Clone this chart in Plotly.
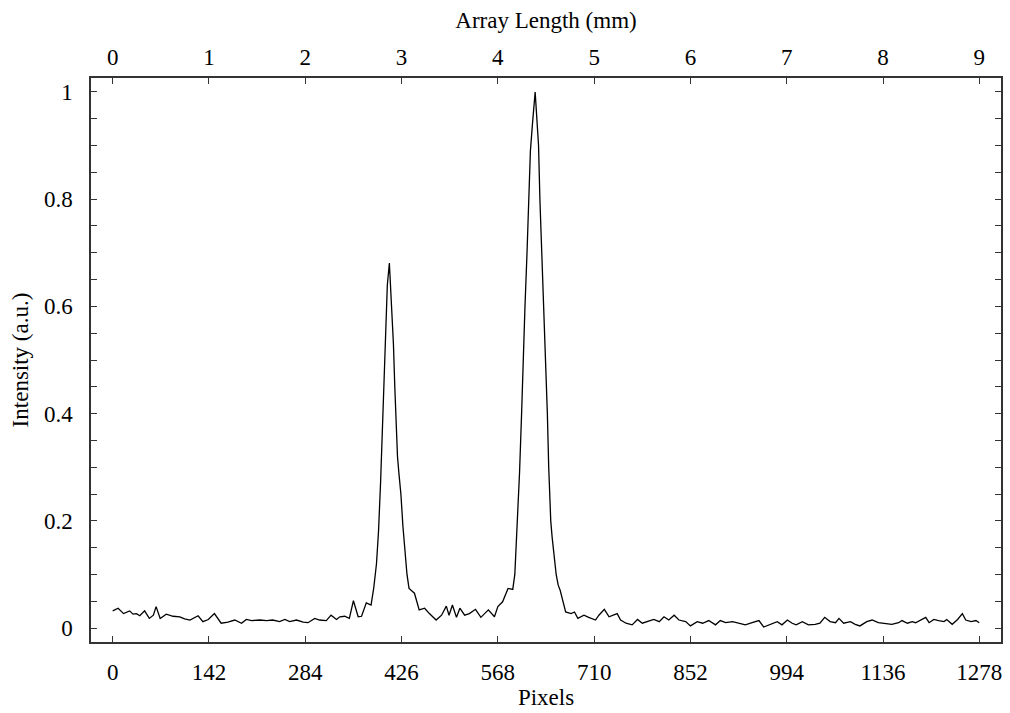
import plotly.graph_objects as go

pixels = [0, 8, 16, 25, 30, 35, 40, 47, 54, 60, 64, 70, 79, 89, 99, 106, 114, 126, 133, 141,
          150, 160, 170, 180, 190, 197, 205, 217, 227, 236, 246, 254, 261, 271, 281, 288, 298,
          305, 315, 322, 330, 335, 342, 349, 355, 362, 367, 374, 381, 385, 389, 392, 395, 398,
          401, 403, 405, 408, 410, 412, 414, 416, 418, 420, 422, 425, 428, 431, 434, 437, 445,
          452, 460, 467, 477, 485, 492, 496, 501, 507, 512, 519, 526, 535, 543, 554, 563, 568,
          575, 583, 590, 593, 596, 598, 600, 603, 605, 608, 611, 614, 616, 619, 621, 623, 625,
          627, 628, 630, 633, 636, 639, 641, 643, 645, 646, 648, 651, 654, 657, 660, 663, 668,
          676, 681, 686, 695, 702, 712, 717, 725, 732, 744, 749, 757, 766, 774, 781, 788, 798,
          806, 813, 820, 828, 835, 845, 852, 862, 870, 879, 889, 896, 904, 914, 923, 933, 943,
          953, 960, 968, 980, 987, 995, 1002, 1008, 1017, 1026, 1036, 1043, 1050, 1058, 1066,
          1071, 1078, 1088, 1095, 1102, 1112, 1120, 1129, 1139, 1149, 1159, 1164, 1172, 1179,
          1184, 1191, 1199, 1204, 1211, 1218, 1226, 1230, 1238, 1246, 1253, 1258, 1266, 1273, 1278]

intensity = [0.032, 0.037, 0.027, 0.032, 0.026, 0.027, 0.023, 0.032, 0.018, 0.024, 0.040, 0.018,
             0.026, 0.022, 0.021, 0.017, 0.015, 0.023, 0.012, 0.016, 0.027, 0.009, 0.011, 0.015,
             0.009, 0.016, 0.014, 0.015, 0.014, 0.015, 0.012, 0.016, 0.012, 0.015, 0.011, 0.010,
             0.018, 0.015, 0.014, 0.024, 0.016, 0.021, 0.022, 0.018, 0.051, 0.021, 0.022, 0.047,
             0.043, 0.075, 0.12, 0.18, 0.27, 0.39, 0.51, 0.58, 0.64, 0.681, 0.63, 0.56, 0.53,
             0.45, 0.38, 0.32, 0.29, 0.25, 0.19, 0.14, 0.10, 0.074, 0.065, 0.034, 0.037, 0.027,
             0.015, 0.024, 0.041, 0.024, 0.043, 0.020, 0.037, 0.024, 0.027, 0.035, 0.020, 0.034,
             0.021, 0.040, 0.049, 0.074, 0.072, 0.10, 0.18, 0.24, 0.29, 0.40, 0.50, 0.60, 0.70,
             0.82, 0.89, 0.94, 0.98, 1.0, 0.96, 0.91, 0.90, 0.80, 0.70, 0.59, 0.49, 0.40, 0.30,
             0.22, 0.20, 0.17, 0.13, 0.10, 0.08, 0.070, 0.055, 0.030, 0.027, 0.030, 0.018, 0.024,
             0.020, 0.015, 0.024, 0.035, 0.021, 0.027, 0.015, 0.009, 0.006, 0.016, 0.009, 0.012,
             0.016, 0.012, 0.021, 0.015, 0.024, 0.015, 0.012, 0.004, 0.012, 0.009, 0.014, 0.006,
             0.014, 0.010, 0.012, 0.009, 0.006, 0.010, 0.014, 0.002, 0.006, 0.012, 0.006, 0.015,
             0.009, 0.006, 0.012, 0.006, 0.007, 0.009, 0.020, 0.012, 0.010, 0.018, 0.009, 0.012,
             0.007, 0.004, 0.012, 0.015, 0.010, 0.009, 0.007, 0.010, 0.014, 0.009, 0.012, 0.010,
             0.014, 0.020, 0.010, 0.016, 0.014, 0.012, 0.016, 0.007, 0.016, 0.027, 0.015, 0.012,
             0.014, 0.010]

pixel_ticks = [0, 142, 284, 426, 568, 710, 852, 994, 1136, 1278]
mm_ticks = [0, 1, 2, 3, 4, 5, 6, 7, 8, 9]
y_ticks = [0, 0.2, 0.4, 0.6, 0.8, 1]
y_tick_labels = ["0", "0.2", "0.4", "0.6", "0.8", "1"]
PX_PER_MM = 142

font = dict(family="Liberation Serif, Times New Roman, serif", size=23, color="black")

fig = go.Figure()
fig.add_trace(go.Scatter(x=pixels, y=intensity, mode="lines",
                         line=dict(color="black", width=1.3), showlegend=False))

xr = [-32, 1310]
fig.update_layout(
    width=1010, height=713,
    margin=dict(l=91, r=7, t=78, b=71),
    plot_bgcolor="white", paper_bgcolor="white",
    font=font,
    xaxis=dict(range=xr, tickvals=pixel_ticks, ticktext=[str(t) for t in pixel_ticks],
               ticks="inside", ticklen=6, tickwidth=1, tickcolor="#333",
               showline=True, linecolor="#333", linewidth=1.5, mirror=True,
               showgrid=False, zeroline=False,
               title=dict(text="Pixels", font=font, standoff=5),
               ticklabelstandoff=9),
    xaxis2=dict(range=[xr[0] / PX_PER_MM, xr[1] / PX_PER_MM], overlaying="x", side="top",
                anchor="y", tickvals=mm_ticks, ticktext=[str(t) for t in mm_ticks],
                ticks="inside", ticklen=6, tickwidth=1, tickcolor="#333",
                showgrid=False, zeroline=False, showline=False,
                title=dict(text="Array Length (mm)", font=font, standoff=10),
                ticklabelstandoff=7),
    yaxis=dict(range=[-0.026, 1.026], tickvals=y_ticks, ticktext=y_tick_labels,
               ticks="inside", ticklen=6, tickwidth=1, tickcolor="#333",
               minor=dict(dtick=0.05, tick0=0, ticks="inside", ticklen=6, tickcolor="#333",
                          showgrid=False),
               showline=True, linecolor="#333", linewidth=1.5, mirror="ticks",
               showgrid=False, zeroline=False,
               title=dict(text="Intensity (a.u.)", font=font, standoff=9),
               ticklabelstandoff=12),
)
fig.add_trace(go.Scatter(x=[p / PX_PER_MM for p in pixels], y=intensity, xaxis="x2",
                         mode="lines", line=dict(width=0), opacity=0,
                         hoverinfo="skip", showlegend=False))

fig.write_html("out.html")
